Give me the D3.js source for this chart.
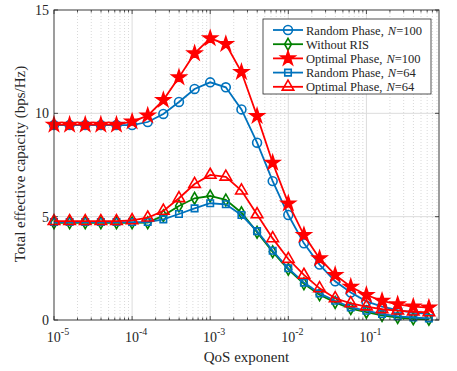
<!DOCTYPE html>
<html>
<head>
<meta charset="utf-8">
<script src="https://cdn.jsdelivr.net/npm/d3@7"></script>
<style>
  body { margin: 0; background: #fff; }
  text { font-family: "Liberation Serif", "Times New Roman", serif; }
</style>
</head>
<body>
<svg width="457" height="371"></svg>
<script>
// QoS exponent points: 10^-5 ... 10^-0.2, step 0.2 decade
var qosExp = [-5, -4.8, -4.6, -4.4, -4.2, -4, -3.8, -3.6, -3.4, -3.2, -3, -2.8, -2.6,
              -2.4, -2.2, -2, -1.8, -1.6, -1.4, -1.2, -1, -0.8, -0.6, -0.4, -0.2];

var randomN100 = [9.43, 9.43, 9.43, 9.43, 9.43, 9.43, 9.58, 9.97, 10.55, 11.18, 11.5, 11.26, 10.19,
                  8.58, 6.72, 5.08, 3.71, 2.68, 1.87, 1.33, 0.9, 0.65, 0.48, 0.36, 0.3];
var withoutRIS = [4.7, 4.7, 4.7, 4.7, 4.7, 4.7, 4.71, 5.05, 5.52, 5.89, 6.0, 5.81, 5.19,
                  4.25, 3.3, 2.45, 1.75, 1.22, 0.85, 0.55, 0.38, 0.22, 0.12, 0.06, 0.03];
var optimalN100 = [9.45, 9.45, 9.45, 9.45, 9.45, 9.6, 9.89, 10.64, 11.74, 12.9, 13.63, 13.35, 12.0,
                   9.87, 7.61, 5.64, 4.11, 2.98, 2.18, 1.61, 1.21, 0.93, 0.76, 0.65, 0.6];
var randomN64 = [4.74, 4.74, 4.74, 4.74, 4.74, 4.74, 4.74, 4.87, 5.13, 5.4, 5.65, 5.6, 5.08,
                 4.3, 3.35, 2.5, 1.81, 1.29, 0.93, 0.61, 0.45, 0.29, 0.18, 0.12, 0.08];
var optimalN64 = [4.78, 4.78, 4.78, 4.78, 4.78, 4.82, 4.95, 5.28, 5.89, 6.58, 7.02, 6.93, 6.26,
                  5.11, 3.95, 2.95, 2.18, 1.53, 1.05, 0.81, 0.65, 0.52, 0.45, 0.4, 0.37];

var xTicks = [1e-5, 1e-4, 1e-3, 1e-2, 1e-1];
var yTicks = [0, 5, 10, 15];

var series = [
  { name: "Random Phase,", n: "100", values: randomN100, color: "#0072BD", marker: "circle" },
  { name: "Without RIS", n: null, values: withoutRIS, color: "#008000", marker: "diamond" },
  { name: "Optimal Phase,", n: "100", values: optimalN100, color: "#FF0000", marker: "star" },
  { name: "Random Phase,", n: "64", values: randomN64, color: "#0072BD", marker: "square" },
  { name: "Optimal Phase,", n: "64", values: optimalN64, color: "#FF0000", marker: "triangle" }
];

var svg = d3.select("svg");
var plotL = 54, plotR = 439, plotT = 10, plotB = 320;

var x = d3.scaleLog().domain([1e-5, 0.85]).range([plotL, plotR]);
var y = d3.scaleLinear().domain([0, 15]).range([plotB, plotT]);

// minor x values
var minorX = [];
for (var e = -5; e <= -1; e++) {
  for (var m = 2; m <= 9; m++) {
    var v = m * Math.pow(10, e);
    if (v < 0.85) minorX.push(v);
  }
}

var grid = svg.append("g");
grid.selectAll(".minor").data(minorX).enter().append("line")
    .attr("x1", d => x(d)).attr("x2", d => x(d))
    .attr("y1", plotT).attr("y2", plotB)
    .attr("stroke", "#cfcfcf").attr("stroke-width", 0.8)
    .attr("stroke-dasharray", "1,2");
grid.selectAll(".majx").data(xTicks.slice(1)).enter().append("line")
    .attr("x1", d => x(d)).attr("x2", d => x(d))
    .attr("y1", plotT).attr("y2", plotB)
    .attr("stroke", "#dcdcdc").attr("stroke-width", 1);
grid.selectAll(".majy").data(yTicks.slice(1, 3)).enter().append("line")
    .attr("x1", plotL).attr("x2", plotR)
    .attr("y1", d => y(d)).attr("y2", d => y(d))
    .attr("stroke", "#dcdcdc").attr("stroke-width", 1);

// ticks inside on all sides
var ticks = svg.append("g").attr("stroke", "#262626").attr("stroke-width", 0.8);
xTicks.forEach(function (d) {
  ticks.append("line").attr("x1", x(d)).attr("x2", x(d)).attr("y1", plotB).attr("y2", plotB - 4);
  ticks.append("line").attr("x1", x(d)).attr("x2", x(d)).attr("y1", plotT).attr("y2", plotT + 4);
});
minorX.forEach(function (d) {
  ticks.append("line").attr("x1", x(d)).attr("x2", x(d)).attr("y1", plotB).attr("y2", plotB - 2.5);
  ticks.append("line").attr("x1", x(d)).attr("x2", x(d)).attr("y1", plotT).attr("y2", plotT + 2.5);
});
yTicks.forEach(function (d) {
  ticks.append("line").attr("x1", plotL).attr("x2", plotL + 4).attr("y1", y(d)).attr("y2", y(d));
  ticks.append("line").attr("x1", plotR).attr("x2", plotR - 4).attr("y1", y(d)).attr("y2", y(d));
});

// series
var line = d3.line().x((d, i) => x(Math.pow(10, qosExp[i]))).y(d => y(d));
var symbolType = { circle: d3.symbolCircle, diamond: d3.symbolDiamond, star: d3.symbolStar,
                   square: d3.symbolSquare, triangle: d3.symbolTriangle };
var symbolSize = { circle: 62, diamond: 40, star: 60, square: 42, triangle: 58 };

function drawMarker(g, s, cx, cy) {
  g.append("path")
    .attr("d", d3.symbol().type(symbolType[s.marker]).size(symbolSize[s.marker])())
    .attr("transform", "translate(" + cx + "," + cy + ")")
    .attr("fill", s.marker === "star" ? s.color : "none")
    .attr("stroke", s.color).attr("stroke-width", 1.6);
}

series.forEach(function (s) {
  var g = svg.append("g");
  g.append("path").datum(s.values).attr("d", line)
    .attr("fill", "none").attr("stroke", s.color).attr("stroke-width", 1.8);
  s.values.forEach(function (v, i) {
    drawMarker(g, s, x(Math.pow(10, qosExp[i])), y(v));
  });
});

// axes box
svg.append("rect").attr("x", plotL).attr("y", plotT).attr("width", plotR - plotL).attr("height", plotB - plotT)
  .attr("fill", "none").attr("stroke", "#262626").attr("stroke-width", 0.9);

// tick labels
xTicks.forEach(function (d) {
  var t = svg.append("text").attr("x", x(d) + 4).attr("y", 342).attr("text-anchor", "middle")
    .attr("font-size", 14).attr("fill", "#262626");
  t.append("tspan").text("10");
  t.append("tspan").attr("font-size", 10).attr("dy", -7).text(Math.round(Math.log10(d)));
});
yTicks.forEach(function (d) {
  svg.append("text").attr("x", plotL - 5).attr("y", y(d) + 5).attr("text-anchor", "end")
    .attr("font-size", 14).attr("fill", "#262626").text(d);
});

svg.append("text").attr("x", (plotL + plotR) / 2).attr("y", 362).attr("text-anchor", "middle")
  .attr("font-size", 15).attr("fill", "#262626").text("QoS exponent");
svg.append("text").attr("transform", "translate(25," + ((plotT + plotB) / 2 - 1) + ") rotate(-90)")
  .attr("text-anchor", "middle").attr("font-size", 15).attr("fill", "#262626")
  .text("Total effective capacity (bps/Hz)");

// legend
var lg = svg.append("g");
lg.append("rect").attr("x", 263).attr("y", 19).attr("width", 168).attr("height", 75)
  .attr("fill", "#fff").attr("stroke", "#262626").attr("stroke-width", 0.8);
series.forEach(function (s, i) {
  var ly = 30 + i * 14.2;
  lg.append("line").attr("x1", 273).attr("x2", 303).attr("y1", ly).attr("y2", ly)
    .attr("stroke", s.color).attr("stroke-width", 1.8);
  drawMarker(lg, s, 288, ly);
  var t = lg.append("text").attr("x", 306).attr("y", ly + 4.5).attr("font-size", 12.5)
    .attr("fill", "#262626");
  t.append("tspan").text(s.name);
  if (s.n) {
    t.append("tspan").attr("dx", 4).attr("font-style", "italic").text("N");
    t.append("tspan").text("=" + s.n);
  }
});
</script>
</body>
</html>
